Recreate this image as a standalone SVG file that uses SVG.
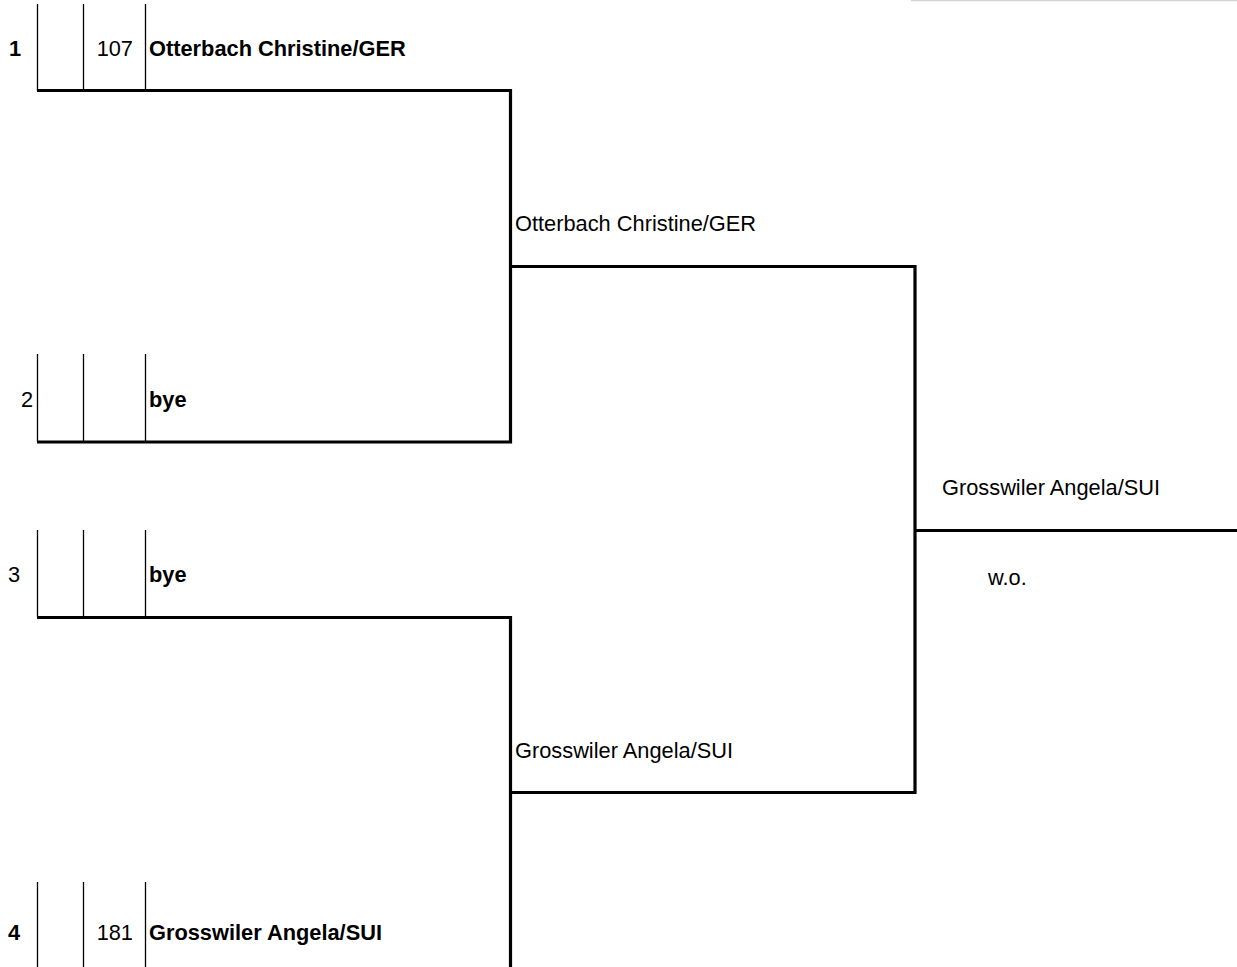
<svg xmlns="http://www.w3.org/2000/svg" width="1237" height="967" viewBox="0 0 1237 967">
<style>
text{font-family:"Liberation Sans",Arial,sans-serif;font-size:21.8px;fill:#000}
.b{font-weight:bold}
.r{text-anchor:end}
.thin{stroke:#000;stroke-width:1.3;fill:none}
.thick{stroke:#000;stroke-width:3.2;fill:none}
</style>
<rect width="1237" height="967" fill="#fff"/>
<line x1="911" y1="0.5" x2="1237" y2="0.5" stroke="#d4d4d4" stroke-width="1.5"/>
<g id="entry1">
<path class="thin" d="M37.5 4V91M83.5 4V91M145.5 4V91"/>
<text class="b" x="9" y="56">1</text>
<text class="r" x="133" y="56">107</text>
<text class="b" x="149" y="56">Otterbach Christine/GER</text>
</g>
<g id="entry2">
<path class="thin" d="M37.5 354V442M83.5 354V442M145.5 354V442"/>
<text class="r" x="33" y="407">2</text>
<text class="b" x="149" y="407">bye</text>
</g>
<g id="entry3">
<path class="thin" d="M37.5 530V617M83.5 530V617M145.5 530V617"/>
<text x="8" y="582">3</text>
<text class="b" x="149" y="582">bye</text>
</g>
<g id="entry4">
<path class="thin" d="M37.5 882V967M83.5 882V967M145.5 882V967"/>
<text class="b" x="8" y="940">4</text>
<text class="r" x="133" y="940">181</text>
<text class="b" x="149" y="940">Grosswiler Angela/SUI</text>
</g>
<g id="semi1">
<text x="515" y="231">Otterbach Christine/GER</text>
</g>
<g id="semi2">
<text x="515" y="758">Grosswiler Angela/SUI</text>
</g>
<g id="final">
<text x="942" y="495">Grosswiler Angela/SUI</text>
<text x="988" y="585">w.o.</text>
</g>
<g id="connectors">
<path class="thick" d="M37 90.5H510.5V442H37"/>
<path class="thick" d="M37 617.5H510.5V967"/>
<path class="thick" d="M510.5 266.5H915V792.5H510.5"/>
<path class="thick" d="M915 530.5H1237"/>
</g>
</svg>
